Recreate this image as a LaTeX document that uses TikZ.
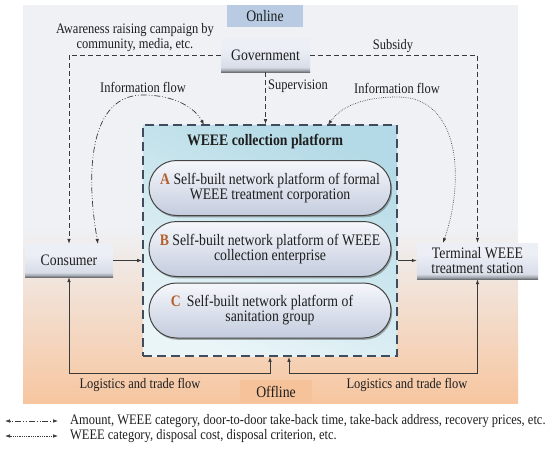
\documentclass[tikz,border=0pt]{standalone}
\usepackage{fontspec}
\setmainfont{Liberation Serif}[FakeStretch=0.86]
\usetikzlibrary{arrows.meta,shadows,calc}
\definecolor{bgtop}{HTML}{EFF1F5}
\definecolor{bgmid}{HTML}{FADBC4}
\definecolor{bgbot}{HTML}{F7C6A0}
\definecolor{onl}{HTML}{B8CBE2}
\definecolor{offl}{HTML}{F6C29A}
\definecolor{bA}{HTML}{6E7177}
\definecolor{bB}{HTML}{A9ADB5}
\definecolor{bC}{HTML}{D8DDE8}
\definecolor{bD}{HTML}{ECEFF6}
\definecolor{platA}{HTML}{B3DAE6}
\definecolor{platB}{HTML}{EAF5F8}
\definecolor{platline}{HTML}{3E4C5D}
\definecolor{pillA}{HTML}{F5F7FB}
\definecolor{pillB}{HTML}{C4CCDE}
\definecolor{pilldraw}{HTML}{454545}
\definecolor{letter}{HTML}{B4602E}
\definecolor{lc}{HTML}{3A3A3A}
\definecolor{txt}{HTML}{1E1E1E}
\pgfdeclareverticalshading{btnshade}{100bp}{color(0bp)=(bA); color(25bp)=(bA); color(28bp)=(bB); color(32bp)=(bC); color(60bp)=(bD); color(100bp)=(bD)}
\tikzset{
  small/.style={font=\fontsize{14.5}{15}\selectfont, text=txt, align=center, inner sep=0pt},
  main/.style={font=\fontsize{16}{15}\selectfont, text=txt, align=center, inner sep=0pt},
  btn/.style={main, shade, shading=btnshade},
  pill/.style={main, draw=pilldraw, line width=1pt, rounded corners=27.5pt,
    top color=pillA, bottom color=pillB, minimum width=242pt, minimum height=55pt,
    drop shadow={shadow xshift=1.2pt, shadow yshift=-1.8pt, opacity=0.45, fill=black!70}},
  dsh/.style={draw=lc, line width=0.8pt, dash pattern=on 5pt off 3pt},
  sol/.style={draw=lc, line width=0.9pt},
  ddot/.style={draw=lc, line width=0.7pt, dash pattern=on 0.8pt off 2pt on 0.8pt off 2pt on 6pt off 2pt},
  dotl/.style={draw=lc, line width=0.7pt, dash pattern=on 0.6pt off 1.2pt},
  ar/.style={-{Latex[length=5pt,width=3.6pt]}},
  ar2/.style={{Latex[length=5pt,width=3.6pt]}-{Latex[length=5pt,width=3.6pt]}}
}
\begin{document}
\begin{tikzpicture}[x=1pt,y=-1pt]
\useasboundingbox (0,0) rectangle (550,455);
% background
\fill[bgtop] (23,5) rectangle (518,228);
\shade[top color=bgtop, middle color=bgmid, bottom color=bgbot] (23,227.5) rectangle (518,403);
% boxes
\node[main, fill=onl, minimum width=76pt, minimum height=22pt] (onl) at (265,16) {Online};
\node[main, fill=offl, minimum width=72pt, minimum height=23pt] (offl) at (276,391.5) {Offline};
\node[btn, minimum width=89pt, minimum height=34pt] (gov) at (265.5,55) {Government};
\node[btn, minimum width=88pt, minimum height=33pt] (cons) at (69,260.5) {Consumer};
\node[btn, minimum width=121pt, minimum height=36pt] (term) at (477.5,261) {Terminal WEEE\\treatment station};
\node[draw=platline, line width=1.6pt, dash pattern=on 9pt off 5pt, top color=platA, bottom color=platB, shading angle=-25, minimum width=254pt, minimum height=231pt, inner sep=0pt] (plat) at (270,240.5) {};
\node[main, font=\fontsize{16}{15}\selectfont\bfseries] (ptitle) at (265,142) {WEEE collection platform};
\node[pill] (pa) at (270,188) {\textcolor{letter}{\textbf{A}} Self-built network platform of formal\\WEEE treatment corporation};
\node[pill] (pb) at (270,249) {\textcolor{letter}{\textbf{B}} Self-built network platform of WEEE\\collection enterprise};
\node[pill] (pc) at (270,310.5) {\textcolor{letter}{\textbf{C}}\hspace{6pt}Self-built network platform of\kern16pt\\sanitation group};
% labels
\node[small] (aw) at (135,37.5) {Awareness raising campaign by\\community, media, etc.};
\node[small] (sub) at (393,46) {Subsidy};
\node[small] (sup) at (298,86) {Supervision};
\node[small] (ifl) at (143,87) {Information flow};
\node[small] (ifr) at (397,88) {Information flow};
\node[small] (lgl) at (140,385) {Logistics and trade flow};
\node[small] (lgr) at (407,385) {Logistics and trade flow};
% coordinates
\coordinate (c2) at (98,244);
\coordinate (t2) at (443,243);
\coordinate (pl1) at (204,125);
\coordinate (pl3) at (328,125);
\coordinate (pr) at ($(plat.south)+(19,0)$);
% dashed connectors
\draw[dsh, ar] (gov.west) -| (cons.north);
\draw[dsh, ar] (gov.east) -| (term.north);
\draw[dsh, ar] (gov.south) -- (gov.south |- plat.north);
% information flows
\draw[ddot, ar2] (c2) .. controls (85,170) and (90,95) .. (143,95) .. controls (175,95) and (195,108) .. (pl1);
\draw[dotl, ar2] (pl3) .. controls (340,108) and (360,97) .. (398,97) .. controls (460,97) and (465,180) .. (t2);
% solid connectors
\draw[sol, ar] (cons.east) -- (cons.east -| plat.west);
\draw[sol, ar] (cons.east -| plat.east) -- (cons.east -| term.west);
\draw[sol, ar2] (plat.south) -- ++(0,17) -| (cons.south);
\draw[sol, ar2] (pr) -- ++(0,17) -| (term.south);
% legend
\coordinate (l1a) at (5,421);
\coordinate (l1b) at (58,421);
\coordinate (l2a) at (5,436);
\coordinate (l2b) at (58,436);
\draw[ddot, ar2] (l1a) -- (l1b);
\draw[dotl, ar2] (l2a) -- (l2b);
\node[small, anchor=west] (lt1) at (70,421) {Amount, WEEE category, door-to-door take-back time, take-back address, recovery prices, etc.};
\node[small, anchor=west] (lt2) at (70,436) {WEEE category, disposal cost, disposal criterion, etc.};
\end{tikzpicture}
\end{document}
